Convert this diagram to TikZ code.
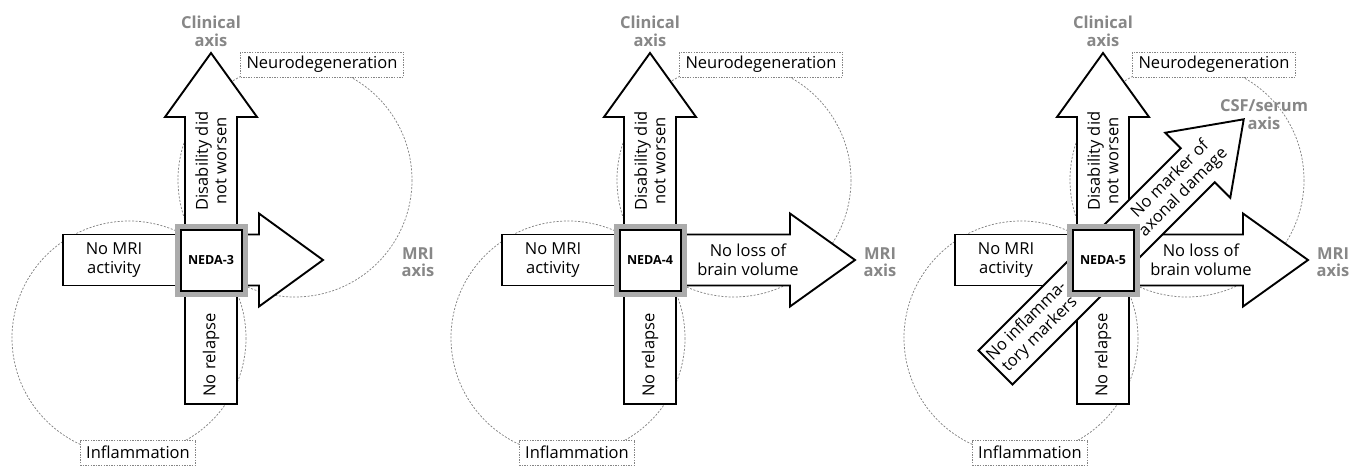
\documentclass[tikz,border=0pt]{standalone}
\usepackage{fontspec}
\setmainfont{Open Sans}
\definecolor{axisgray}{HTML}{878787}
\definecolor{framegray}{HTML}{ABABAB}
\definecolor{dashgray}{HTML}{858585}
\tikzset{
  blockarrow/.style={draw=black, line width=1.9pt, fill=white, line join=miter, miter limit=10},
  zonecircle/.style={draw=dashgray, line width=0.75pt, dash pattern=on 2pt off 1.6pt},
  zonelabel/.style={draw=dashgray, line width=0.75pt, dash pattern=on 1.4pt off 1.2pt, fill=white,
    font=\fontsize{16.5}{18}\selectfont, inner xsep=6pt, inner ysep=0pt, minimum height=25pt},
  axislabel/.style={text=axisgray, font=\bfseries\fontsize{16.5}{17.5}\selectfont, align=center, inner sep=0pt},
  armtext/.style={font=\fontsize{16.5}{18.5}\selectfont, align=center, inner sep=0pt},
  nedatext/.style={font=\bfseries\fontsize{12.5}{14}\selectfont},
}
\newcommand\nedapanel[3]{% #1 id, #2 x centre, #3 NEDA number
\begin{scope}[shift={(#2,260)}]
  \draw[zonecircle] (84,-80) circle[radius=117];
  \draw[zonecircle] (-82,78) circle[radius=117];
  % up arrow (clinical axis)
  \draw[blockarrow] (-26,-30) -- (-26,-143) -- (-46,-143) -- (0,-207) -- (46,-143) -- (26,-143) -- (26,-30) -- cycle;
  % down bar
  \draw[blockarrow] (-26,30) rectangle (26,144);
  % left bar
  \draw[blockarrow] (-148,-25.5) rectangle (-30,25.5);
  % right arrow (MRI axis)
  \ifnum#3=3
    \draw[blockarrow] (30,-25.5) -- (48,-25.5) -- (48,-46.5) -- (112,0) -- (48,46.5) -- (48,25.5) -- (30,25.5) -- cycle;
  \else
    \draw[blockarrow] (30,-25.5) -- (140,-25.5) -- (140,-46.5) -- (205,0) -- (140,46.5) -- (140,25.5) -- (30,25.5) -- cycle;
  \fi
  \ifnum#3=5
    \begin{scope}[rotate=45]
      \draw[blockarrow] (-152,-24) -- (134,-24) -- (134,-46) -- (199,0) -- (134,46) -- (134,24) -- (-152,24) -- cycle;
    \end{scope}
  \fi
  % central box
  \node[draw=framegray, line width=6.5pt, fill=white, minimum size=66.5pt, inner sep=0pt] (#1frame) at (0,0) {};
  \node[draw=black, line width=2pt, fill=white, minimum size=61pt, inner sep=0pt, nedatext] (#1box) at (0,0) {NEDA-#3};
  % zone labels
  \node[zonelabel] (#1neuro) at (111,-195.5) {Neurodegeneration};
  \node[zonelabel] (#1infl) at (-73,192.5) {Inflammation};
  % axis labels
  \node[axislabel] (#1clin) at (0,-228.5) {Clinical\\axis};
  \ifnum#3=3
    \node[axislabel] (#1mriaxis) at (207,2) {MRI\\axis};
  \else
    \node[axislabel] (#1mriaxis) at (230,2) {MRI\\axis};
  \fi
  % arm texts
  \node[armtext, rotate=90] (#1dis) at (0,-99) {Disability did\\not worsen};
  \node[armtext, rotate=90] (#1rel) at (0,95) {No relapse};
  \node[armtext] (#1mri) at (-97,0) {No MRI\\activity};
  \ifnum#3>3
    \node[armtext] (#1vol) at (98,0) {No loss of\\brain volume};
  \fi
  \ifnum#3=5
    \node[axislabel] (#1csf) at (161,-145.5) {CSF/serum\\axis};
    \node[armtext, rotate=45] (#1axon) at (74,-74) {No marker of\\axonal damage};
    \node[armtext, rotate=45] (#1inflm) at (-69.5,68) {No inflamma-\\tory markers};
  \fi
\end{scope}}
\begin{document}
\begin{tikzpicture}[x=1pt, y=-1pt]
  \useasboundingbox (0,0) rectangle (1352,466);
  \fill[white] (0,0) rectangle (1352,466);
  \nedapanel{a}{211}{3}
  \nedapanel{b}{650}{4}
  \nedapanel{c}{1103}{5}
\end{tikzpicture}
\end{document}
